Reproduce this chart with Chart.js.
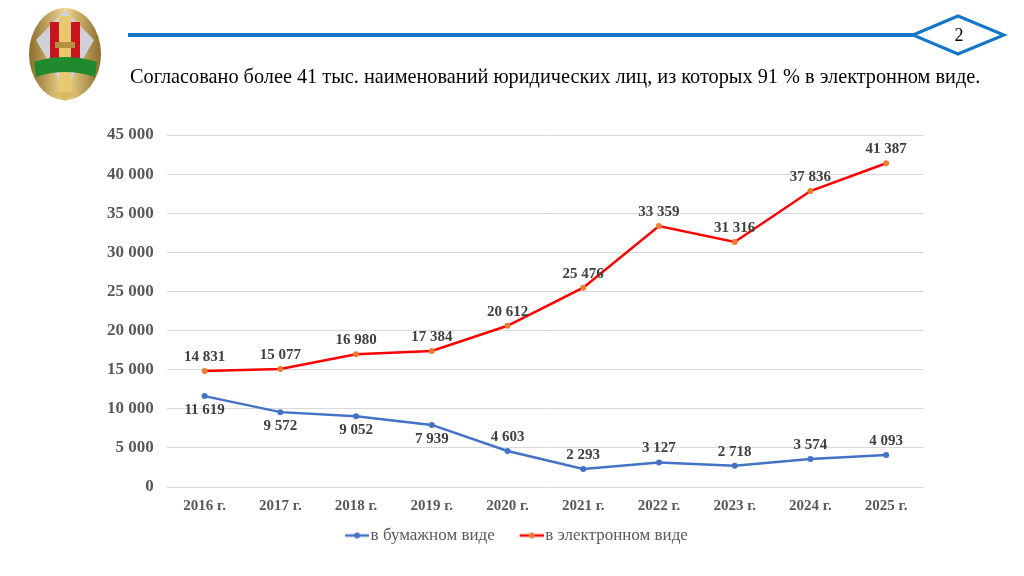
<!DOCTYPE html>
<html lang="ru">
<head>
<meta charset="utf-8">
<script src="https://cdn.jsdelivr.net/npm/chart.js@4.4.1/dist/chart.umd.min.js"></script>
<style>
  html, body { margin: 0; padding: 0; background: #fff; }
  #wrap { position: relative; width: 1024px; height: 576px; overflow: hidden; }
  #chart { position: absolute; left: 0; top: 0; }
  #deco { position: absolute; left: 0; top: 0; }
  #title {
    position: absolute; left: 130px; top: 65px; white-space: nowrap;
    font-family: "Liberation Serif", "Times New Roman", serif; font-size: 20.3px; color: #000;
  }
  #page {
    position: absolute; left: 913px; top: 16px; width: 92px; height: 38px; line-height: 38px;
    text-align: center; font-family: "Liberation Serif", serif; font-size: 18px; color: #000;
  }
</style>
</head>
<body>
<div id="wrap">
  <canvas id="deco" width="1024" height="110"></canvas>
  <div id="title">Согласовано более 41 тыс. наименований юридических лиц, из которых 91 % в электронном виде.</div>
  <div id="page">2</div>
  <canvas id="chart" width="1024" height="576"></canvas>
</div>
<script>
const years = ["2016 г.", "2017 г.", "2018 г.", "2019 г.", "2020 г.", "2021 г.", "2022 г.", "2023 г.", "2024 г.", "2025 г."];
const paper = [11619, 9572, 9052, 7939, 4603, 2293, 3127, 2718, 3574, 4093];
const electronic = [14831, 15077, 16980, 17384, 20612, 25476, 33359, 31316, 37836, 41387];
const seriesNames = ["в бумажном виде", "в электронном виде"];

// где подпись: над точкой (-1) или под ней (1)
const paperSide = [1, 1, 1, 1, -1, -1, -1, -1, -1, -1];
const electronicSide = [-1, -1, -1, -1, -1, -1, -1, -1, -1, -1];

const grey = "#595959";
const serif = "'Liberation Serif', 'Times New Roman', serif";

function fmt(v) {
  return String(v).replace(/\B(?=(\d{3})+(?!\d))/g, " ");
}

// шапка: эмблема, линия, ромб
function drawHeader() {
  const c = document.getElementById("deco").getContext("2d");
  c.strokeStyle = "#1677c8";
  c.lineWidth = 4;
  c.beginPath(); c.moveTo(128, 35); c.lineTo(913, 35); c.stroke();
  c.lineWidth = 3;
  c.beginPath();
  c.moveTo(913, 35); c.lineTo(958, 16); c.lineTo(1004, 35); c.lineTo(958, 54); c.closePath();
  c.stroke();
  // эмблема (упрощённо)
  const g = c.createLinearGradient(28, 0, 102, 0);
  g.addColorStop(0, "#8a6a2a"); g.addColorStop(0.5, "#f0d890"); g.addColorStop(1, "#8a6a2a");
  c.fillStyle = g;
  c.beginPath(); c.ellipse(65, 54, 36, 46, 0, 0, Math.PI * 2); c.fill();
  c.fillStyle = "#d0d0d8";
  c.beginPath(); c.moveTo(65, 10); c.lineTo(94, 40); c.lineTo(65, 90); c.lineTo(36, 40); c.closePath(); c.fill();
  c.fillStyle = "#c8141e";
  c.fillRect(50, 22, 30, 44);
  c.fillStyle = "#e8c870";
  c.fillRect(59, 16, 12, 78);
  c.fillStyle = "#b89040";
  c.fillRect(55, 42, 20, 6);
  c.fillStyle = "#1f8a2e";
  c.beginPath();
  c.moveTo(34, 62); c.quadraticCurveTo(65, 52, 97, 62); c.lineTo(95, 77); c.quadraticCurveTo(65, 67, 36, 77);
  c.closePath(); c.fill();
  c.fillStyle = "#d8b860";
  c.beginPath(); c.moveTo(50, 92); c.lineTo(80, 92); c.lineTo(65, 101); c.closePath(); c.fill();
}

// значок легенды: линия с точкой, сдвинут вправо к тексту
function legendMarker(line, dot) {
  const cv = document.createElement("canvas");
  cv.width = 46; cv.height = 8;
  const c = cv.getContext("2d");
  c.strokeStyle = line; c.lineWidth = 2.5;
  c.beginPath(); c.moveTo(22, 4); c.lineTo(46, 4); c.stroke();
  c.fillStyle = dot;
  c.beginPath(); c.arc(34, 4, 3, 0, Math.PI * 2); c.fill();
  return cv;
}

const valueLabels = {
  id: "valueLabels",
  afterDatasetsDraw(chart) {
    const ctx = chart.ctx;
    const sides = [paperSide, electronicSide];
    ctx.save();
    ctx.font = "bold 15px " + serif;
    ctx.fillStyle = "#404040";
    ctx.textAlign = "center";
    ctx.textBaseline = "middle";
    chart.data.datasets.forEach((ds, i) => {
      chart.getDatasetMeta(i).data.forEach((pt, j) => {
        const dy = sides[i][j] * 14;
        ctx.fillText(fmt(ds.data[j]), pt.x, pt.y + dy);
      });
    });
    ctx.restore();
  }
};

function renderChart() {
  const ctx = document.getElementById("chart").getContext("2d");
  new Chart(ctx, {
    type: "line",
    data: {
      labels: years,
      datasets: [
        {
          label: seriesNames[0],
          data: paper,
          borderColor: "#4472c4",
          backgroundColor: "#4472c4",
          pointBackgroundColor: "#4472c4",
          pointBorderWidth: 0,
          pointRadius: 3,
          borderWidth: 2.5
        },
        {
          label: seriesNames[1],
          data: electronic,
          borderColor: "#ff0000",
          backgroundColor: "#ff0000",
          pointBackgroundColor: "#ed7d31",
          pointBorderWidth: 0,
          pointRadius: 3,
          borderWidth: 2.5
        }
      ]
    },
    options: {
      responsive: false,
      animation: false,
      layout: { padding: { left: 94, right: 100, top: 135, bottom: 22 } },
      plugins: {
        tooltip: { enabled: false },
        legend: {
          position: "bottom",
          labels: {
            usePointStyle: true,
            pointStyleWidth: 32,
            generateLabels: () => [
              { text: seriesNames[0], pointStyle: legendMarker("#4472c4", "#4472c4"), fontColor: grey, lineWidth: 0, strokeStyle: "transparent", fillStyle: "transparent" },
              { text: seriesNames[1], pointStyle: legendMarker("#ff0000", "#ed7d31"), fontColor: grey, lineWidth: 0, strokeStyle: "transparent", fillStyle: "transparent" }
            ],
            font: { family: serif, size: 17 },
            color: grey,
            padding: 10,
            boxHeight: 8
          }
        }
      },
      scales: {
        x: {
          offset: true,
          grid: { display: false },
          border: { display: false },
          ticks: { color: grey, font: { family: serif, size: 15, weight: "bold" }, padding: 2 }
        },
        y: {
          min: 0,
          max: 45000,
          ticks: {
            stepSize: 5000,
            color: grey,
            padding: 13,
            font: { family: serif, size: 17, weight: "bold" },
            callback: v => fmt(v)
          },
          grid: { color: "#d9d9d9", drawTicks: false },
          border: { display: false }
        }
      }
    },
    plugins: [valueLabels]
  });
}

drawHeader();
renderChart();
</script>
</body>
</html>
